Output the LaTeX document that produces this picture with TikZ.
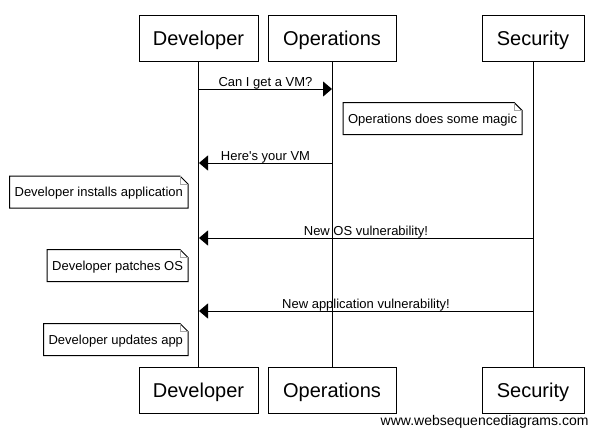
\documentclass[tikz,border=0pt]{standalone}
\usepackage{fontspec}
\setmainfont{Liberation Sans}[Ligatures=TeXOff]
\usetikzlibrary{arrows.meta}
\begin{document}
\begin{tikzpicture}[x=1pt,y=-1pt,line width=1pt,
  actor/.style={draw,fill=white,inner sep=0pt,minimum height=46pt,
    font=\fontsize{20}{24}\selectfont,text height=14.3pt,text depth=0pt},
  life/.style={draw,line width=1pt},
  msg/.style={-{Triangle[length=9pt,width=15pt]}},
  lbl/.style={anchor=base,yshift=3pt,inner sep=0pt,font=\fontsize{13}{15}\selectfont},
  notetext/.style={inner xsep=4.5pt,inner ysep=0pt,minimum height=31pt,
    font=\fontsize{13}{15}\selectfont,text height=9.3pt,text depth=0pt},
  fold/.style={draw=gray!70,line width=0.8pt}]
\useasboundingbox (0,0) rectangle (599,437);
% actors top
\node[actor,minimum width=119pt] (devT) at (198.5,38) {Developer};
\node[actor,minimum width=128pt] (opsT) at (332,38) {Operations};
\node[actor,minimum width=102pt] (secT) at (533,38) {Security};
% actors bottom
\node[actor,minimum width=119pt] (devB) at (198.5,390.5) {Developer};
\node[actor,minimum width=128pt] (opsB) at (332,390.5) {Operations};
\node[actor,minimum width=102pt] (secB) at (533,390.5) {Security};
% lifelines
\draw[life] (devT.south) -- (devB.north);
\draw[life] (opsT.south) -- (opsB.north);
\draw[life] (secT.south) -- (secB.north);
% message anchor points
\coordinate (d1) at (199,89);  \coordinate (o1) at (332,89);
\coordinate (d2) at (199,163); \coordinate (o2) at (332,163);
\coordinate (d3) at (199,238); \coordinate (s3) at (533,238);
\coordinate (d4) at (199,311); \coordinate (s4) at (533,311);
% messages
\draw[msg] (d1) -- node[lbl]{Can I get a VM?} (o1);
\draw[msg] (o2) -- node[lbl]{Here's your VM} (d2);
\draw[msg] (s3) -- node[lbl]{New OS vulnerability!} (d3);
\draw[msg] (s4) -- node[lbl]{New application vulnerability!} (d4);
% notes
\newcommand{\dognote}[1]{%
  \fill[white] (#1.north west) -- ([xshift=-8pt]#1.north east) -- ([yshift=-8pt]#1.north east) -- (#1.south east) -- (#1.south west) -- cycle;
  \draw (#1.north west) -- ([xshift=-8pt]#1.north east) -- ([yshift=-8pt]#1.north east) -- (#1.south east) -- (#1.south west) -- cycle;
  \draw[fold] ([xshift=-8pt]#1.north east) -- ([xshift=-8pt,yshift=-8pt]#1.north east) -- ([yshift=-8pt]#1.north east);
}
\node[notetext,anchor=west] (n1) at (343,118.5) {Operations does some magic};
\node[notetext,anchor=east] (n2) at (188,192) {Developer installs application};
\node[notetext,anchor=east] (n3) at (188,265.5) {Developer patches OS};
\node[notetext,anchor=east] (n4) at (188,339.5) {Developer updates app};
\dognote{n1}\dognote{n2}\dognote{n3}\dognote{n4}
\node[notetext,anchor=west] at (n1.west) {Operations does some magic};
\node[notetext,anchor=east] at (n2.east) {Developer installs application};
\node[notetext,anchor=east] at (n3.east) {Developer patches OS};
\node[notetext,anchor=east] at (n4.east) {Developer updates app};
% watermark
\node[anchor=east,inner sep=0pt,font=\fontsize{14}{16}\selectfont] (wm) at (589,422) {www.websequencediagrams.com};
\end{tikzpicture}
\end{document}
